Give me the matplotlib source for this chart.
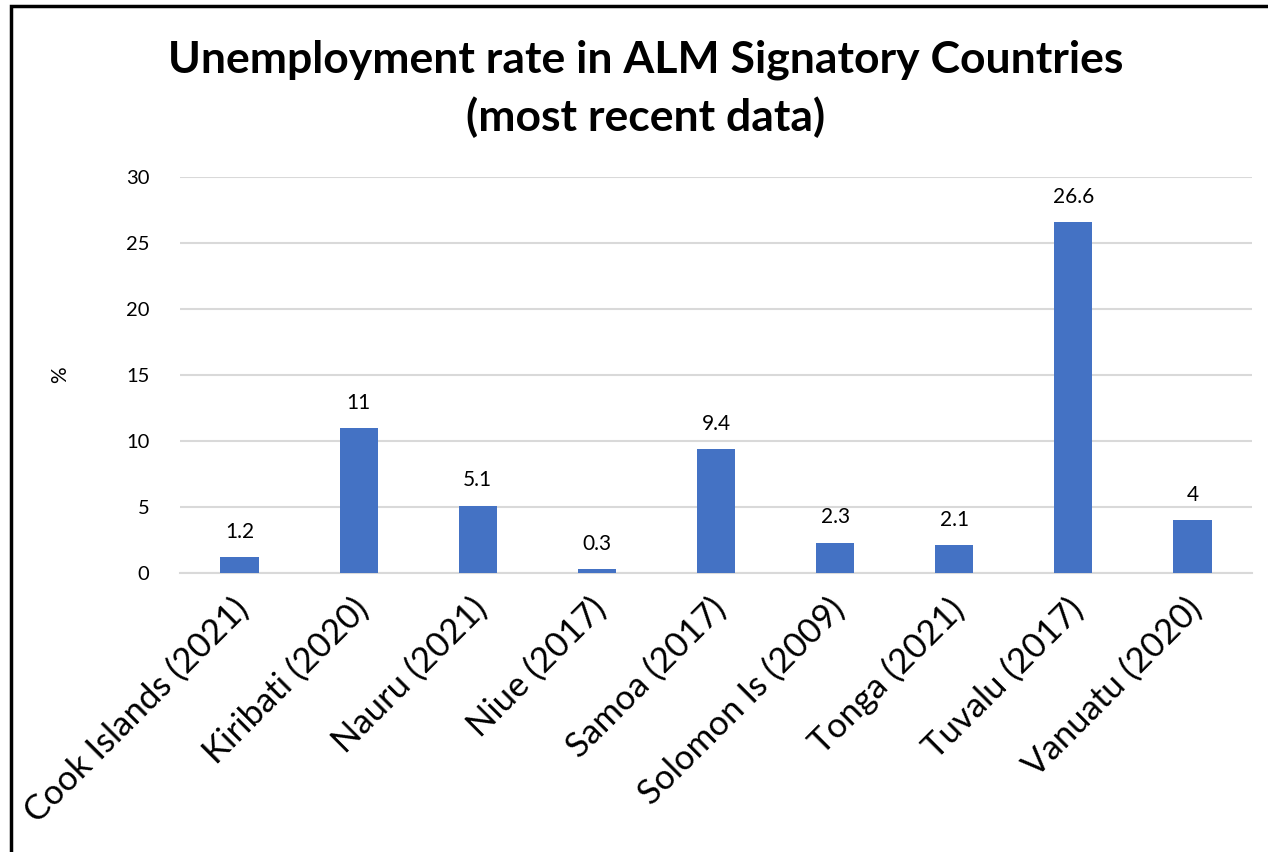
import matplotlib
matplotlib.use("Agg")
import matplotlib.pyplot as plt
from matplotlib.patches import Rectangle
from matplotlib.transforms import ScaledTranslation

categories = ["Cook Islands (2021)", "Kiribati (2020)", "Nauru (2021)", "Niue (2017)",
              "Samoa (2017)", "Solomon Is (2009)", "Tonga (2021)", "Tuvalu (2017)", "Vanuatu (2020)"]
values = [1.2, 11, 5.1, 0.3, 9.4, 2.3, 2.1, 26.6, 4]
value_labels = ["1.2", "11", "5.1", "0.3", "9.4", "2.3", "2.1", "26.6", "4"]
yticks = [0, 5, 10, 15, 20, 25, 30]

plt.rcParams['font.family'] = ['Lato', 'DejaVu Sans']

W, H = 1268, 852
fig = plt.figure(figsize=(W/100, H/100), dpi=100)
ax = fig.add_axes([180/W, 1-573/H, (1252-180)/W, (573-177)/H])

x = list(range(len(categories)))
ax.bar(x, values, width=0.32, color="#4472C4", zorder=3)
ax.set_xlim(-0.5, len(categories)-0.5)
ax.set_ylim(0, 30)
ax.set_yticks(yticks)
ax.set_yticklabels([str(t) for t in yticks], fontsize=14.5)
ax.yaxis.grid(True, color="#d9d9d9", linewidth=1.5, zorder=0)
ax.set_axisbelow(True)
for s in ["top", "right", "left"]:
    ax.spines[s].set_visible(False)
ax.spines["bottom"].set_color("#d9d9d9")
ax.spines["bottom"].set_linewidth(1.5)
ax.tick_params(axis="both", length=0)
ax.tick_params(axis="y", pad=22)
ax.set_xticks(x)
ax.set_xticklabels(categories, rotation=45, ha="right", rotation_mode="anchor", fontsize=25)
ax.tick_params(axis="x", pad=14)
offset = ScaledTranslation(-7/100, 0, fig.dpi_scale_trans)
for lbl in ax.get_xticklabels():
    lbl.set_transform(lbl.get_transform() + offset)

for xi, v, lab in zip(x, values, value_labels):
    ax.annotate(lab, (xi, v), xytext=(0, 11), textcoords="offset points",
                ha="center", va="bottom", fontsize=15)

ax.set_ylabel("%", fontsize=15, labelpad=40)

fig.text(646/W, 1-60/H, "Unemployment rate in ALM Signatory Countries",
         ha="center", va="center", fontsize=32, fontweight="bold")
fig.text(646/W, 1-117/H, "(most recent data)",
         ha="center", va="center", fontsize=32, fontweight="bold")

fig.patches.append(Rectangle((11/W, -0.1), 1.2, 1-6/H+0.1, transform=fig.transFigure,
                             fill=False, edgecolor="black", linewidth=2.5))

fig.savefig("out.png", dpi=100, facecolor="white")
